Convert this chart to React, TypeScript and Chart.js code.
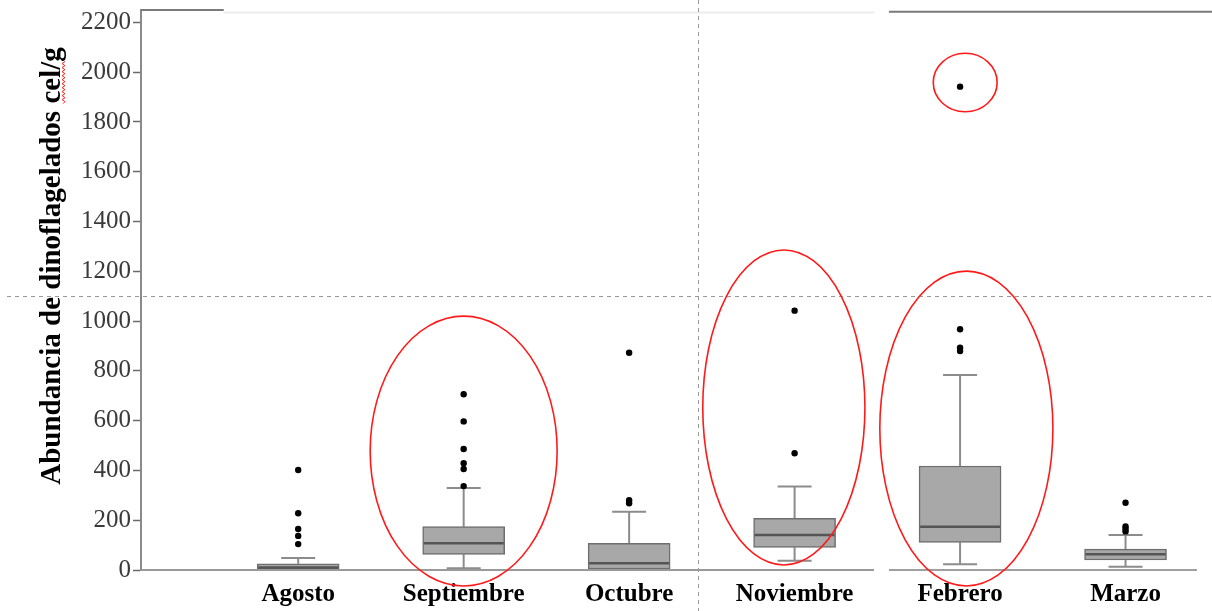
import React, { useEffect, useRef } from 'react';
import { Chart, registerables } from 'chart.js';

Chart.register(...registerables);

// ---- data ----
const months = ['Agosto', 'Septiembre', 'Octubre', 'Noviembre', 'Febrero', 'Marzo'];
const minValues = [0, 7, 1, 37, 23, 13];
const q1Values = [3, 63, 4, 91, 111, 40];
const medianValues = [10, 107, 27, 141, 174, 63];
const q3Values = [25, 174, 107, 208, 418, 84];
const maxValues = [48, 329, 234, 335, 783, 141];
const outlierValues = [
  [402, 228, 165, 137, 104],
  [706, 597, 486, 429, 406, 337],
  [873, 280, 268],
  [1042, 469],
  [1942, 967, 893, 880],
  [270, 175, 165, 155],
];
const yTicks = [0, 200, 400, 600, 800, 1000, 1200, 1400, 1600, 1800, 2000, 2200];

// red highlight ellipses (category position, value range, half-width in category units)
const ellipseCenters = [1.0, 2.935, 4.038, 4.031];
const ellipseLow = [-64, 20, -64, 1841];
const ellipseHigh = [1020, 1286, 1201, 2076];
const ellipseHalfWidth = [0.565, 0.49, 0.523, 0.193];

// dashed reference lines
const dashedX = 2.418;
const dashedY = 1100;

const yTitle = 'Abundancia de dinoflagelados cel/g';

const X_MIN = -0.95;
const X_MAX = 5.45;
const Y_MAX = 2250;

const boxPlugin = {
  id: 'boxExtras',
  beforeDatasetsDraw(chart: any) {
    const ctx = chart.ctx;
    const xs = chart.scales.x;
    const ys = chart.scales.y;
    ctx.save();
    ctx.strokeStyle = '#8c8c8c';
    ctx.lineWidth = 2;
    const cap = 17;
    months.forEach((_, i) => {
      const x = xs.getPixelForValue(i);
      const yMin = ys.getPixelForValue(minValues[i]);
      const yMax = ys.getPixelForValue(maxValues[i]);
      const yQ1 = ys.getPixelForValue(q1Values[i]);
      const yQ3 = ys.getPixelForValue(q3Values[i]);
      ctx.beginPath();
      ctx.moveTo(x, yQ3);
      ctx.lineTo(x, yMax);
      ctx.moveTo(x - cap, yMax);
      ctx.lineTo(x + cap, yMax);
      ctx.moveTo(x, yQ1);
      ctx.lineTo(x, yMin);
      ctx.moveTo(x - cap, yMin);
      ctx.lineTo(x + cap, yMin);
      ctx.stroke();
    });
    ctx.restore();
  },
  afterDatasetDraw(chart: any, args: any) {
    if (args.index !== 0) return;
    const ctx = chart.ctx;
    const xs = chart.scales.x;
    const ys = chart.scales.y;
    ctx.save();
    ctx.strokeStyle = '#555555';
    ctx.lineWidth = 2.5;
    const half = 40;
    months.forEach((_, i) => {
      const x = xs.getPixelForValue(i);
      const y = ys.getPixelForValue(medianValues[i]);
      ctx.beginPath();
      ctx.moveTo(x - half, y);
      ctx.lineTo(x + half, y);
      ctx.stroke();
    });
    ctx.restore();
  },
  afterDraw(chart: any) {
    const ctx = chart.ctx;
    const xs = chart.scales.x;
    const ys = chart.scales.y;
    const W = chart.width;
    const H = chart.height;
    const area = chart.chartArea;
    ctx.save();

    // frame segments (top border pieces and baseline pieces)
    const gapStart = xs.getPixelForValue(3.48);
    const gapEnd = xs.getPixelForValue(3.57);
    const topSplit = xs.getPixelForValue(-0.45);
    ctx.lineWidth = 2;
    ctx.strokeStyle = '#7a7a7a';
    ctx.beginPath();
    ctx.moveTo(area.left, area.top);
    ctx.lineTo(topSplit, area.top);
    ctx.stroke();
    ctx.strokeStyle = '#ececec';
    ctx.beginPath();
    ctx.moveTo(topSplit, area.top + 2.5);
    ctx.lineTo(gapStart, area.top + 2.5);
    ctx.stroke();
    ctx.strokeStyle = '#7a7a7a';
    ctx.beginPath();
    ctx.moveTo(gapEnd, area.top + 1.7);
    ctx.lineTo(W, area.top + 1.7);
    ctx.stroke();

    const y0 = ys.getPixelForValue(0);
    ctx.strokeStyle = '#9a9a9a';
    ctx.lineWidth = 2;
    ctx.beginPath();
    ctx.moveTo(area.left, y0);
    ctx.lineTo(gapStart, y0);
    ctx.stroke();
    ctx.strokeStyle = '#7f7f7f';
    ctx.lineWidth = 1.3;
    ctx.beginPath();
    ctx.moveTo(gapEnd, y0);
    ctx.lineTo(area.right - 3, y0);
    ctx.stroke();

    // dashed reference lines
    ctx.setLineDash([4, 4]);
    ctx.strokeStyle = '#999999';
    ctx.lineWidth = 1;
    const dx = Math.round(xs.getPixelForValue(dashedX)) + 0.5;
    ctx.beginPath();
    ctx.moveTo(dx, 0);
    ctx.lineTo(dx, H);
    ctx.stroke();
    const dy = Math.round(ys.getPixelForValue(dashedY)) + 0.5;
    ctx.beginPath();
    ctx.moveTo(7, dy);
    ctx.lineTo(W, dy);
    ctx.stroke();
    ctx.setLineDash([]);

    // red ellipses
    ctx.strokeStyle = '#ff1a1a';
    ctx.lineWidth = 1.6;
    ellipseCenters.forEach((c, i) => {
      const cx = xs.getPixelForValue(c);
      const rx = xs.getPixelForValue(c + ellipseHalfWidth[i]) - cx;
      const yTop = ys.getPixelForValue(ellipseHigh[i]);
      const yBot = ys.getPixelForValue(ellipseLow[i]);
      ctx.beginPath();
      ctx.ellipse(cx, (yTop + yBot) / 2, rx, (yBot - yTop) / 2, 0, 0, Math.PI * 2);
      ctx.stroke();
    });

    // y axis title
    ctx.translate(60, 266);
    ctx.rotate(-Math.PI / 2);
    ctx.font = 'bold 29px "Liberation Serif"';
    ctx.fillStyle = '#000000';
    ctx.textAlign = 'left';
    ctx.textBaseline = 'alphabetic';
    const tw = ctx.measureText(yTitle).width;
    const startX = -tw / 2;
    ctx.fillText(yTitle, startX, 0);
    // spell-check squiggle under "cel/"
    const pre = ctx.measureText('Abundancia de dinoflagelados ').width;
    const word = ctx.measureText('cel/').width;
    ctx.strokeStyle = '#ff2020';
    ctx.lineWidth = 1;
    ctx.beginPath();
    let px = startX + pre;
    let up = true;
    ctx.moveTo(px, 3);
    while (px < startX + pre + word) {
      px += 2;
      ctx.lineTo(px, up ? 5 : 2);
      up = !up;
    }
    ctx.stroke();

    ctx.restore();
  },
};

export default function App() {
  const canvasRef = useRef<HTMLCanvasElement | null>(null);

  useEffect(() => {
    document.body.style.margin = '0';
    const canvas = canvasRef.current;
    if (!canvas) return;
    const boxData = months.map((_, i) => ({ x: i, y: [q1Values[i], q3Values[i]] }));
    const outlierData = outlierValues.flatMap((arr, i) => arr.map((v) => ({ x: i, y: v })));

    const chart = new Chart(canvas, {
      type: 'bar',
      data: {
        datasets: [
          {
            type: 'bar',
            data: boxData as any,
            backgroundColor: '#a8a8a8',
            borderColor: '#6e6e6e',
            borderWidth: 1.5,
            borderSkipped: false,
            barThickness: 82,
          } as any,
          {
            type: 'scatter',
            data: outlierData as any,
            backgroundColor: '#000000',
            borderColor: '#000000',
            pointRadius: 3.2,
            pointBorderWidth: 0,
          } as any,
        ],
      },
      options: {
        animation: false,
        responsive: false,
        events: [],
        layout: { padding: { top: 10, right: 12, left: 0, bottom: 0 } },
        plugins: { legend: { display: false }, tooltip: { enabled: false } },
        scales: {
          x: {
            type: 'linear',
            min: X_MIN,
            max: X_MAX,
            offset: false,
            grid: { display: false, drawTicks: false, offset: false },
            border: { display: false },
            afterBuildTicks: (scale: any) => {
              scale.ticks = months.map((_, i) => ({ value: i }));
            },
            afterFit: (scale: any) => {
              scale.height = 41;
              scale.paddingLeft = 0;
              scale.paddingRight = 0;
            },
            ticks: {
              autoSkip: false,
              maxRotation: 0,
              padding: 10,
              color: '#000000',
              font: { family: '"Liberation Serif"', size: 25, weight: 'bold' },
              callback: (v: any) => months[v as number] ?? '',
            },
          },
          y: {
            type: 'linear',
            min: 0,
            max: Y_MAX,
            grid: { display: true, drawOnChartArea: false, drawTicks: true, tickLength: 8, color: '#6a6a6a', tickWidth: 1.5 },
            border: { display: true, color: '#8a8a8a', width: 2 },
            afterBuildTicks: (scale: any) => {
              scale.ticks = yTicks.map((v) => ({ value: v }));
            },
            afterFit: (scale: any) => {
              scale.width = 141;
              scale.paddingTop = 0;
              scale.paddingBottom = 0;
            },
            ticks: {
              padding: 2,
              color: '#3a3a3a',
              font: { family: '"Liberation Serif"', size: 25 },
              callback: (v: any) => String(v),
            },
          },
        },
      } as any,
      plugins: [boxPlugin],
    });
    return () => chart.destroy();
  }, []);

  return (
    <div style={{ width: 1212, height: 611 }}>
      <canvas ref={canvasRef} width={1212} height={611} style={{ display: 'block' }} />
    </div>
  );
}
